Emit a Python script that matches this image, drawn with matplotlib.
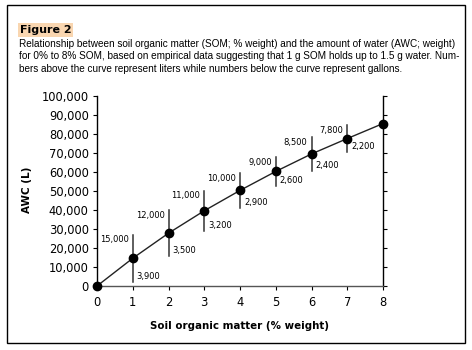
import matplotlib
matplotlib.use("Agg")
import matplotlib.pyplot as plt
from matplotlib.patches import Rectangle
from matplotlib.ticker import FuncFormatter

som = [0, 1, 2, 3, 4, 5, 6, 7, 8]
awc = [0, 14600, 27800, 39600, 50300, 60300, 69500, 77600, 85500]

bar_x = [1, 2, 3, 4, 5, 6, 7]
bar_half = [12300, 12000, 10500, 9000, 7500, 8800, 6900]
liters = ["15,000", "12,000", "11,000", "10,000", "9,000", "8,500", "7,800"]
gallons = ["3,900", "3,500", "3,200", "2,900", "2,600", "2,400", "2,200"]

yticks = list(range(0, 100001, 10000))

caption = ["Relationship between soil organic matter (SOM; % weight) and the amount of water (AWC; weight)",
           "for 0% to 8% SOM, based on empirical data suggesting that 1 g SOM holds up to 1.5 g water. Num-",
           "bers above the curve represent liters while numbers below the curve represent gallons."]

fig = plt.figure(figsize=(4.72, 3.5), dpi=100)
fig.patches.append(Rectangle((7 / 472, 1 - 343 / 350), 458 / 472, 338 / 350,
                             transform=fig.transFigure, fill=False, ec="black", lw=1))

fig.text(20 / 472, 1 - 30 / 350, "Figure 2", fontsize=8, fontweight="bold", va="center",
         bbox=dict(boxstyle="square,pad=0.15", fc="#f9d6b0", ec="none"))

# shrink the caption font so the first line fits the box width
renderer = fig.canvas.get_renderer()
size = 7.0
probe = fig.text(0, 0, caption[0], fontsize=size, family="Liberation Sans")
w = probe.get_window_extent(renderer).width
probe.remove()
size = size * 436 / w
line_y = [44, 56, 69]
for i in range(3):
    fig.text(19 / 472, 1 - line_y[i] / 350, caption[i], fontsize=size, family="Liberation Sans",
             va="center")

ax = fig.add_axes([97 / 472, 1 - 286 / 350, 286 / 472, 190 / 350])
ax.plot(som, awc, color="#222222", lw=1, marker="o", ms=6, mfc="black", mec="black", clip_on=False, zorder=3)

for i in range(len(bar_x)):
    x = bar_x[i]
    y = awc[x]
    ax.plot([x, x], [y - bar_half[i], y + bar_half[i]], color="#333333", lw=1.1, zorder=2)
    ax.annotate(liters[i], (x, y + bar_half[i]), xytext=(-4, -5), textcoords="offset pixels",
                ha="right", va="center", fontsize=6)
    ax.annotate(gallons[i], (x, y - bar_half[i]), xytext=(4, 5), textcoords="offset pixels",
                ha="left", va="center", fontsize=6)

ax.set_xlim(0, 8)
ax.set_ylim(0, 100000)
ax.set_xticks(som)
ax.set_yticks(yticks)
ax.yaxis.set_major_formatter(FuncFormatter(lambda v, p: f"{int(v):,}"))
ax.spines["top"].set_visible(False)
for s in ["left", "right", "bottom"]:
    ax.spines[s].set_linewidth(1)
ax.spines["bottom"].set_color("#555555")
ax.tick_params(axis="y", which="both", left=True, right=True, length=3, labelsize=8.3, pad=3)
ax.tick_params(axis="x", length=3, labelsize=8.3, pad=4)

ax.set_xlabel("Soil organic matter (% weight)", fontsize=7.4, fontweight="bold", labelpad=9)
fig.text(27 / 472, 1 - 190 / 350, "AWC (L)", fontsize=7.5, fontweight="bold", rotation=90,
         ha="center", va="center")

fig.savefig("out.png", dpi=100)
